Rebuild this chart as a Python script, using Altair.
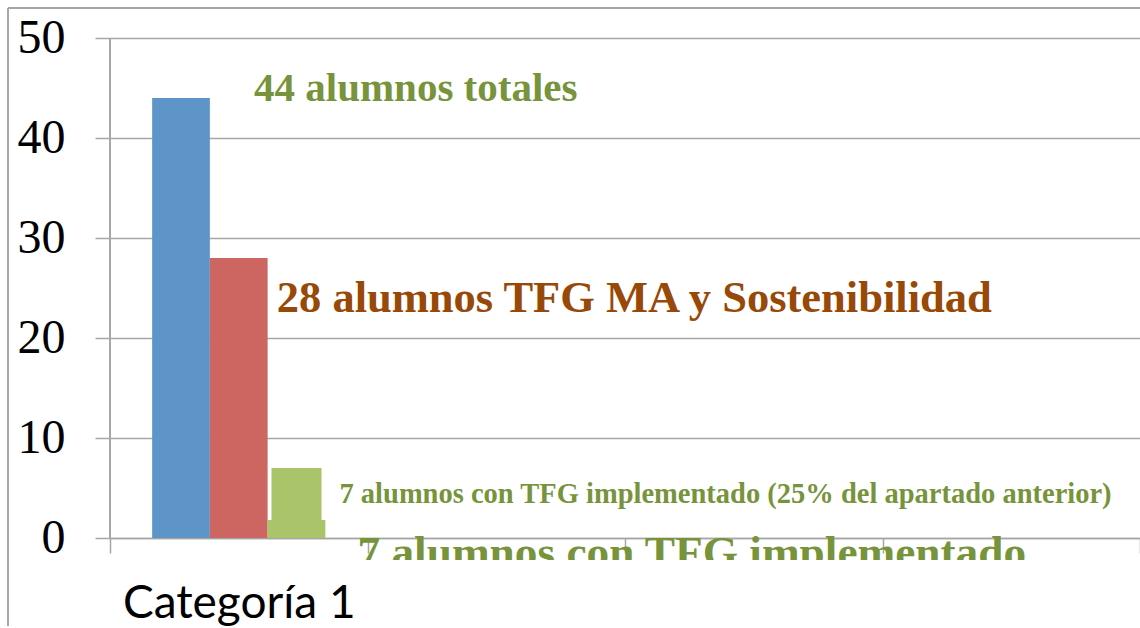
import altair as alt
import pandas as pd

categories = ["Categoría 1", "Categoría 2", "Categoría 3", "Categoría 4"]
series = ["Alumnos totales", "TFG MA y Sostenibilidad", "TFG implementado"]
values = [44, 28, 7]
series_colors = ["#5E95C9", "#CD6660", "#AAC46A"]
stub_value = 1.8
labels = [
    "44 alumnos totales",
    "28 alumnos TFG MA y Sostenibilidad",
    "7 alumnos con TFG implementado (25% del apartado anterior)",
]
overflow_label = "7 alumnos con TFG implementado"
y_ticks = [0, 10, 20, 30, 40, 50]

GRAY = "#A6A6A6"
GREEN_TXT = "#77933C"
BROWN_TXT = "#984807"

df = pd.DataFrame({"cat": categories[0], "serie": series, "valor": values, "label": labels})
stub_df = pd.DataFrame({"cat": [categories[0]], "serie": [series[2]], "valor": [stub_value]})
over_df = pd.DataFrame({"cat": [categories[0]], "serie": [series[2]], "valor": [0], "label": [overflow_label]})

x_enc = alt.X(
    "cat:N",
    scale=alt.Scale(domain=categories, paddingInner=0, paddingOuter=0),
    axis=alt.Axis(
        title=None, offset=-22, domain=True, domainColor=GRAY, domainWidth=1.5,
        tickBand="extent", tickSize=15, tickColor=GRAY, tickWidth=1.5,
        labelFont="Lato", labelFontSize=46, labelColor="black", labelAngle=0,
        labelPadding=28, labelLimit=0,
        labelExpr=f"datum.value == '{categories[0]}' ? datum.label : ''",
        grid=False,
    ),
)
xo_enc = alt.XOffset("serie:N", scale=alt.Scale(domain=series, paddingInner=0, paddingOuter=0.73))
y_enc = alt.Y(
    "valor:Q",
    scale=alt.Scale(domain=[-2.2, 50], nice=False, zero=False),
    axis=alt.Axis(
        title=None, values=y_ticks, domain=False, tickSize=15, tickColor=GRAY, tickWidth=1.5,
        grid=True, gridColor=GRAY, gridWidth=1.5,
        labelFont="Liberation Serif", labelFontSize=48, labelColor="black", labelPadding=30,
    ),
)
col_enc = alt.Color("serie:N", scale=alt.Scale(domain=series, range=series_colors), legend=None)

base = alt.Chart(df)

bars_main = base.transform_filter(
    alt.FieldOneOfPredicate(field="serie", oneOf=series[:2])
).mark_bar().encode(x=x_enc, xOffset=xo_enc, y=y_enc, color=col_enc)

stub = alt.Chart(stub_df).mark_bar().encode(x=x_enc, xOffset=xo_enc, y=y_enc, color=col_enc)

green_bar = base.transform_filter(
    alt.FieldEqualPredicate(field="serie", equal=series[2])
).mark_bar(width=50).encode(x=x_enc, xOffset=xo_enc, y=y_enc, color=col_enc)

def label_layer(idx, dx, dy, size, color):
    return base.transform_filter(
        alt.FieldEqualPredicate(field="serie", equal=series[idx])
    ).mark_text(
        align="left", baseline="alphabetic", dx=dx, dy=dy,
        font="Liberation Serif", fontWeight="bold", fontSize=size, color=color,
    ).encode(x=x_enc, xOffset=xo_enc, y=y_enc, text="label:N")

lab0 = label_layer(0, 73, 3, 41, GREEN_TXT)
lab1 = label_layer(1, 38, 54, 44.5, BROWN_TXT)
lab2 = label_layer(2, 43, 35, 28.5, GREEN_TXT)

over = alt.Chart(over_df).mark_text(
    align="left", baseline="alphabetic", dx=61, dy=29, clip=True,
    font="Liberation Serif", fontWeight="bold", fontSize=45.3, color=GREEN_TXT,
).encode(x=x_enc, xOffset=xo_enc, y=y_enc, text="label:N")

y_line = alt.Chart(df).mark_rule(color=GRAY, strokeWidth=1.5).encode(
    x=alt.value(0), y=alt.datum(y_ticks[-1]), y2=alt.datum(y_ticks[0])
)

frame_top = alt.Chart(df).mark_rule(color=GRAY, strokeWidth=2).encode(
    x=alt.value(-102), x2=alt.value(1040), y=alt.value(-30)
)
frame_left = alt.Chart(df).mark_rule(color=GRAY, strokeWidth=2).encode(
    x=alt.value(-102), y=alt.value(-30), y2=alt.value(600)
)

chart = alt.layer(
    bars_main, stub, green_bar, y_line, lab0, lab1, lab2, over, frame_top, frame_left
).properties(
    width=1030, height=522,
    padding={"left": 110, "top": 38, "right": 0, "bottom": 66},
    autosize=alt.AutoSizeParams(type="none"),
    background="white",
).configure_view(stroke=None)

chart.save("out.html", embed_options={"renderer": "svg", "actions": False})
